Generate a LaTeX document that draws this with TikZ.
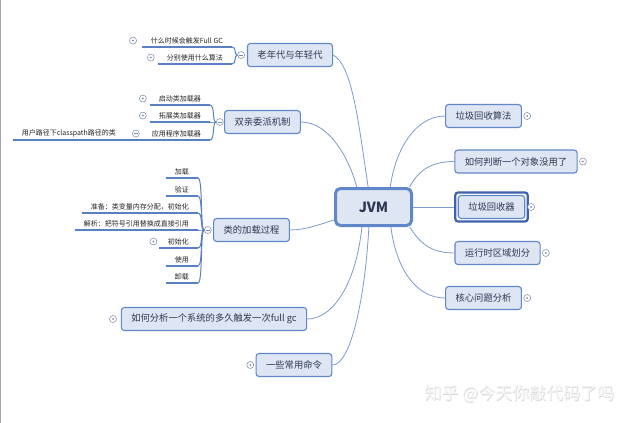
\documentclass[tikz,border=0pt]{standalone}
\usepackage{fontspec}
\setmainfont{Noto Sans CJK SC}
\usepackage{xcolor}
\usetikzlibrary{positioning,fit}
\definecolor{boxfill}{RGB}{222,230,243}
\definecolor{boxline}{RGB}{96,135,200}
\definecolor{ink}{RGB}{45,55,80}
\definecolor{leafink}{RGB}{35,35,40}
\definecolor{branchline}{RGB}{125,155,208}
\definecolor{ulinecol}{RGB}{88,128,195}
\definecolor{foldline}{RGB}{120,135,165}
\definecolor{pickline}{RGB}{62,98,175}

\begin{document}
\begin{tikzpicture}[x=1pt,y=-1pt]
\tikzstyle{hub}=[draw=boxline, fill=boxfill, line width=3pt, rounded corners=5pt, minimum width=76pt, minimum height=37pt, text=ink, font=\fontsize{14}{16}\selectfont\bfseries]
\tikzstyle{topic}=[draw=boxline, fill=boxfill, line width=1.1pt, rounded corners=3pt, minimum height=23pt, inner xsep=10pt, text=ink, font=\fontsize{9.3}{11}\selectfont]
\tikzstyle{picked}=[draw=pickline, line width=2.2pt, rounded corners=3pt, inner sep=2.5pt]
\tikzstyle{leaf}=[anchor=south east, inner xsep=9pt, inner ysep=3pt, text=leafink, font=\fontsize{7}{8}\selectfont]
\tikzstyle{fold}=[circle, draw=foldline, fill=white, line width=0.5pt, minimum size=7pt, inner sep=0pt]
\tikzstyle{expand}=[fold, path picture={\fill[foldline] (path picture bounding box.center) circle (1pt);}]
\tikzstyle{collapse}=[fold, path picture={\draw[foldline, line width=0.6pt] ([xshift=-2pt]path picture bounding box.center) -- ([xshift=2pt]path picture bounding box.center);}]
\tikzstyle{branch}=[draw=branchline, line width=0.8pt]
\tikzstyle{twig}=[draw=ulinecol, line width=1pt]
\tikzstyle{underbar}=[draw=ulinecol, line width=1.8pt]
\tikzstyle{stamp}=[font=\fontsize{17}{19}\selectfont]

\fill[white] (0,0) rectangle (640,423);
\useasboundingbox (0,0) rectangle (640,423);
\fill[gray!70] (0,0) rectangle (1.2,423);

\node[hub] (jvm) at (373.5,207) {JVM};

\node[topic] (old) at (290,55) {老年代与年轻代};
\node[topic] (dual) at (262.5,122) {双亲委派机制};
\node[topic] (load) at (251.5,230) {类的加载过程};
\node[topic] (fgc) at (214,319) {如何分析一个系统的多久触发一次full gc};
\node[topic] (cmd) at (294,365) {一些常用命令};
\node[topic] (algo) at (483.5,116) {垃圾回收算法};
\node[topic] (judge) at (516,161.5) {如何判断一个对象没用了};
\node[topic] (gc) at (491.5,207) {垃圾回收器};
\node[picked, fit=(gc)] (gcsel) {};
\node[topic] (area) at (497.5,253) {运行时区域划分};
\node[topic] (issue) at (483.5,298) {核心问题分析};

\node[leaf] (when) at (232,47) {什么时候会触发Full GC};
\node[leaf] (which) at (232,64) {分别使用什么算法};
\node[leaf] (boot) at (210,105) {启动类加载器};
\node[leaf] (ext) at (210,122) {拓展类加载器};
\node[leaf] (app) at (210,140) {应用程序加载器};
\node[leaf] (user) at (125,140) {用户路径下classpath路径的类};
\node[leaf] (ld1) at (198,178) {加载};
\node[leaf] (ld2) at (198,196) {验证};
\node[leaf] (ld3) at (198,213) {准备：类变量内存分配，初始化};
\node[leaf] (ld4) at (198,230) {解析：把符号引用替换成直接引用};
\node[leaf] (ld5) at (198,248) {初始化};
\node[leaf] (ld6) at (198,266) {使用};
\node[leaf] (ld7) at (198,283) {卸载};

\foreach \n in {when,which,boot,ext,app,user,ld1,ld2,ld3,ld4,ld5,ld6,ld7}
  \draw[underbar] (\n.south west) -- (\n.south east);
\draw[underbar] (user.south east) -- (app.south west);

\node[collapse, left=2pt of old] (oldc) {};
\node[collapse, left=0.5pt of dual] (dualc) {};
\node[collapse, left=1.5pt of load] (loadc) {};
\node[collapse, left=3pt of app] (appc) {};

\node[expand, left=5pt of when] (whene) {};
\node[expand, left=3pt of which] (whiche) {};
\node[expand, left=3pt of boot] (boote) {};
\node[expand, left=3pt of ext] (exte) {};
\node[expand, left=1.5pt of ld5] (ld5e) {};
\node[expand, left=4pt of fgc] (fgce) {};
\node[expand, left=1.5pt of cmd] (cmde) {};
\node[expand, right=1.5pt of algo] (algoe) {};
\node[expand, right=1.5pt of judge] (judgee) {};
\node[expand, right=-1.5pt of gcsel] (gce) {};
\node[expand, right=1.5pt of area] (areae) {};
\node[expand, right=1.5pt of issue] (issuee) {};

\draw[twig] (oldc.west) .. controls +(-4,0) and +(5,0) .. (when.south east);
\draw[twig] (oldc.west) .. controls +(-4,0) and +(5,0) .. (which.south east);
\draw[twig] (dualc.west) .. controls +(-4,0) and +(5,0) .. (boot.south east);
\draw[twig] (dualc.west) .. controls +(-4,0) and +(5,0) .. (ext.south east);
\draw[twig] (dualc.west) .. controls +(-4,0) and +(5,0) .. (app.south east);
\foreach \n in {ld1,ld2,ld3,ld4,ld5,ld6,ld7}
  \draw[twig] (loadc.west) .. controls +(-4,0) and +(5,0) .. (\n.south east);

\draw[branch] (jvm.105) .. controls +(-10,-67) and +(19,10) .. (old.east);
\draw[branch] (jvm.130) .. controls +(-7,-27) and +(29,0) .. (dual.east);
\draw[branch] (jvm.198) .. controls +(-15,5) and +(15,0) .. (load.east);
\draw[branch] (jvm.240) .. controls +(-7,63) and +(23,0) .. (fgc.east);
\draw[branch] (jvm.257) .. controls +(-4,73) and +(18,0) .. (cmd.east);
\draw[branch] (jvm.50) .. controls +(5,-37) and +(-30,0) .. (algo.west);
\draw[branch] (jvm.29) .. controls +(8,-15) and +(-25,0) .. (judge.west);
\draw[branch] (jvm.east) -- (gcsel.west);
\draw[branch] (jvm.331) .. controls +(10,15) and +(-25,0) .. (area.west);
\draw[branch] (jvm.311) .. controls +(5,40) and +(-30,0) .. (issue.west);

\node[stamp, text=gray!32] (wmshade) at (520,394.5) {知乎 @今天你敲代码了吗};
\node[stamp, text=gray!8] (wm) at (519.5,394) {知乎 @今天你敲代码了吗};
\end{tikzpicture}
\end{document}
